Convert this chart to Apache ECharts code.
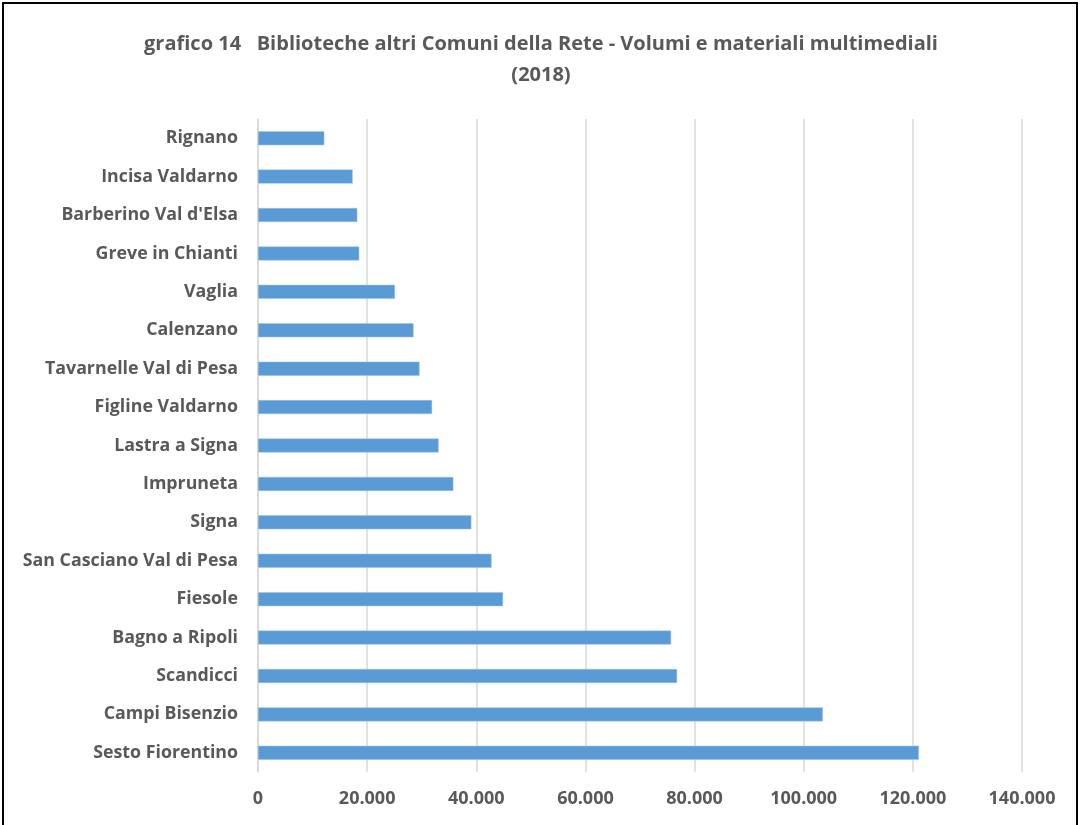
<!DOCTYPE html>
<html>
<head>
<meta charset="utf-8">
<script src="https://cdn.jsdelivr.net/npm/echarts@6/dist/echarts.min.js"></script>
<style>
  html, body { margin: 0; padding: 0; background: #fff; }
  .frame { position: absolute; left: 2px; top: 2px; width: 1076px; height: 840px;
           border: 2px solid #000; box-sizing: border-box; }
  #chart { width: 1082px; height: 825px; position: absolute; left: 0; top: 0; }
</style>
</head>
<body>
<div class="frame"></div>
<div id="chart"></div>
<script>
(function () {
    "use strict";

    // categories top -> bottom
    const comuni = [
        'Rignano', 'Incisa Valdarno', "Barberino Val d'Elsa", 'Greve in Chianti', 'Vaglia',
        'Calenzano', 'Tavarnelle Val di Pesa', 'Figline Valdarno', 'Lastra a Signa', 'Impruneta',
        'Signa', 'San Casciano Val di Pesa', 'Fiesole', 'Bagno a Ripoli', 'Scandicci',
        'Campi Bisenzio', 'Sesto Fiorentino'
    ];
    const volumi = [
        12150, 17350, 18200, 18550, 25100,
        28500, 29600, 31900, 33100, 35800,
        39100, 42800, 44900, 75700, 76800,
        103500, 121100
    ];
    const titolo = 'grafico 14   Biblioteche altri Comuni della Rete - Volumi e materiali multimediali\n(2018)';

    const textGrey = '#595959';
    const fontFam = '"Open Sans", Lato, sans-serif';

    function fmt(v) {
        return String(v).replace(/\B(?=(\d{3})+(?!\d))/g, '.');
    }

    let myChart = echarts.init(document.getElementById('chart'));
    let option = {
        animation: false,
        title: {
            text: titolo,
            left: 'center',
            top: 24,
            textStyle: {
                fontFamily: fontFam,
                fontSize: 20,
                fontWeight: 'bold',
                color: textGrey,
                lineHeight: 31
            }
        },
        grid: { left: 258, right: 60, top: 119, bottom: 53 },
        xAxis: {
            type: 'value',
            min: 0,
            max: 140000,
            interval: 20000,
            axisLine: { show: false },
            axisTick: { show: false },
            splitLine: { lineStyle: { color: '#D9D9D9', width: 1.5 } },
            axisLabel: {
                margin: 18,
                fontFamily: fontFam,
                fontSize: 18,
                fontWeight: 'bold',
                color: textGrey,
                formatter: fmt
            }
        },
        yAxis: {
            type: 'category',
            inverse: true,
            data: comuni,
            axisLine: { show: true, lineStyle: { color: '#D9D9D9', width: 1.5 } },
            axisTick: { show: false },
            axisLabel: {
                margin: 20,
                fontFamily: fontFam,
                fontSize: 17.8,
                fontWeight: 'bold',
                color: textGrey
            }
        },
        series: [{
            type: 'bar',
            data: volumi,
            barWidth: 14,
            itemStyle: { color: '#5B9BD5', borderColor: '#9DC3E6', borderWidth: 0.5 }
        }]
    };
    myChart.setOption(option);
})();
</script>
</body>
</html>
